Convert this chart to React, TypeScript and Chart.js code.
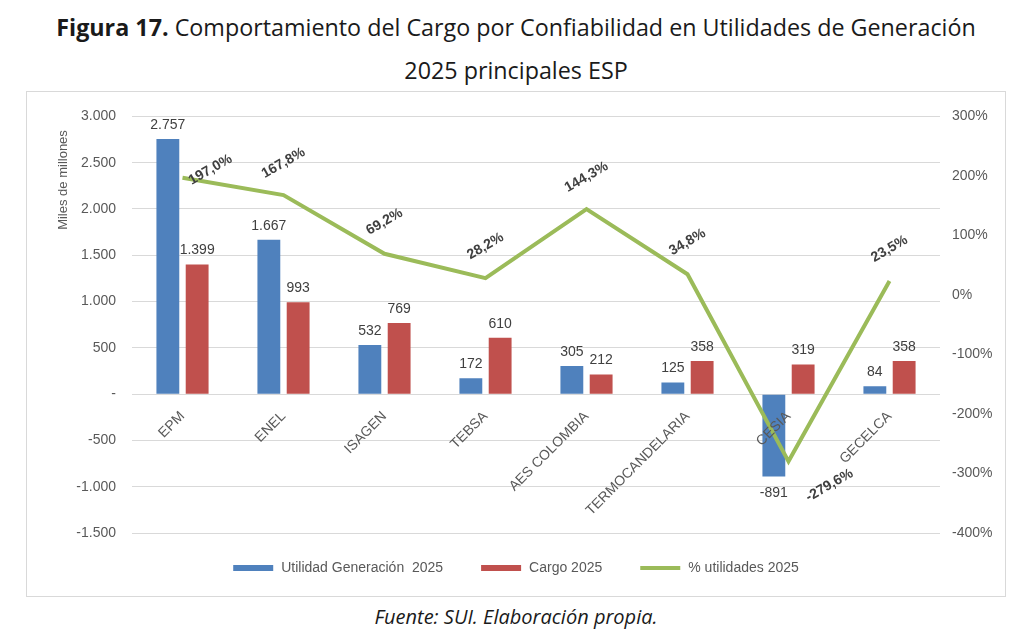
import React, { useEffect, useRef } from "react";
import { Chart, registerables } from "chart.js";

Chart.register(...registerables);

const categories = ["EPM", "ENEL", "ISAGEN", "TEBSA", "AES COLOMBIA", "TERMOCANDELARIA", "CESIA", "GECELCA"];
const utilidadGeneracion = [2757, 1667, 532, 172, 305, 125, -891, 84];
const cargo = [1399, 993, 769, 610, 212, 358, 319, 358];
const pctUtilidades = [197.0, 167.8, 69.2, 28.2, 144.3, 34.8, -279.6, 23.5];

const seriesNames = ["Utilidad Generación  2025", "Cargo 2025", "% utilidades 2025"];
const leftAxisTitle = "Miles de millones";

const BLUE = "#4F81BD";
const RED = "#C0504D";
const GREEN = "#9BBB59";
const AXIS_TEXT = "#595959";
const LABEL_TEXT = "#404040";
const GRID = "#d9d9d9";
const FONT = "'Liberation Sans', Arial, sans-serif";
const TITLE_FONT = "'Open Sans', 'Noto Sans', sans-serif";

const CANVAS_W = 978;
const CANVAS_H = 504;

function fmtThousands(v: number): string {
  const s = Math.abs(Math.round(v)).toString().replace(/\B(?=(\d{3})+(?!\d))/g, ".");
  return (v < 0 ? "-" : "") + s;
}
function fmtPct(v: number): string {
  return v.toFixed(1).replace(".", ",") + "%";
}

const labelsPlugin = {
  id: "customLabels",
  afterDatasetsDraw(chart: any) {
    const ctx = chart.ctx;
    ctx.save();
    [0, 1].forEach((di) => {
      const meta = chart.getDatasetMeta(di);
      const data = chart.data.datasets[di].data as number[];
      meta.data.forEach((el: any, i: number) => {
        const v = data[i];
        ctx.font = `14px ${FONT}`;
        ctx.fillStyle = LABEL_TEXT;
        ctx.textAlign = "center";
        if (v >= 0) {
          ctx.textBaseline = "bottom";
          ctx.fillText(fmtThousands(v), el.x, el.y - 7);
        } else {
          ctx.textBaseline = "top";
          ctx.fillText(fmtThousands(v), el.x, el.y + 10);
        }
      });
    });
    const lmeta = chart.getDatasetMeta(2);
    const ldata = chart.data.datasets[2].data as number[];
    lmeta.data.forEach((pt: any, i: number) => {
      let dx = 0;
      let dy = -32;
      if (i === 0) { dx = 28; dy = -8; }
      if (ldata[i] < -200) { dx = 41; dy = 24; }
      ctx.save();
      ctx.translate(pt.x + dx, pt.y + dy);
      ctx.rotate(-Math.PI / 6);
      ctx.font = `bold 14px ${FONT}`;
      ctx.fillStyle = LABEL_TEXT;
      ctx.textAlign = "center";
      ctx.textBaseline = "middle";
      ctx.fillText(fmtPct(ldata[i]), 0, 0);
      ctx.restore();
    });
    ctx.restore();
  },
  afterDraw(chart: any) {
    const ctx = chart.ctx;
    ctx.save();
    ctx.save();
    ctx.translate(36, 88);
    ctx.rotate(-Math.PI / 2);
    ctx.font = `13px ${FONT}`;
    ctx.fillStyle = AXIS_TEXT;
    ctx.textAlign = "center";
    ctx.textBaseline = "middle";
    ctx.fillText(leftAxisTitle, 0, 0);
    ctx.restore();
    const colors = [BLUE, RED, GREEN];
    ctx.font = `14px ${FONT}`;
    const sw = 40, gap = 8, spacing = 38;
    const widths = seriesNames.map((n) => sw + gap + ctx.measureText(n).width);
    const total = widths.reduce((a, b) => a + b, 0) + spacing * (widths.length - 1);
    let x = chart.width / 2 - total / 2;
    const y = 476;
    seriesNames.forEach((n, i) => {
      ctx.fillStyle = colors[i];
      if (i === 2) ctx.fillRect(x, y - 2, sw, 4);
      else ctx.fillRect(x, y - 3, sw, 6);
      ctx.fillStyle = AXIS_TEXT;
      ctx.textAlign = "left";
      ctx.textBaseline = "middle";
      ctx.fillText(n, x + sw + gap, y);
      x += widths[i] + spacing;
    });
    ctx.restore();
  },
};

function ChartView() {
  const ref = useRef<HTMLCanvasElement | null>(null);
  useEffect(() => {
    if (!ref.current) return;
    const chart = new Chart(ref.current, {
      type: "bar",
      data: {
        labels: categories,
        datasets: [
          {
            type: "bar",
            label: seriesNames[0],
            data: utilidadGeneracion,
            backgroundColor: BLUE,
            yAxisID: "y",
            order: 1,
            categoryPercentage: 0.58,
            barPercentage: 0.78,
          },
          {
            type: "bar",
            label: seriesNames[1],
            data: cargo,
            backgroundColor: RED,
            yAxisID: "y",
            order: 2,
            categoryPercentage: 0.58,
            barPercentage: 0.78,
          },
          {
            type: "line",
            label: seriesNames[2],
            data: pctUtilidades,
            borderColor: GREEN,
            backgroundColor: GREEN,
            borderWidth: 4,
            pointRadius: 0,
            tension: 0,
            fill: false,
            yAxisID: "y1",
            order: 0,
          } as any,
        ],
      },
      options: {
        responsive: false,
        animation: false,
        devicePixelRatio: 1,
        layout: { padding: { top: 22, bottom: 63, left: 0, right: 0 } },
        plugins: {
          legend: { display: false },
          tooltip: { enabled: false },
        },
        scales: {
          x: {
            position: { y: 0 } as any,
            grid: { display: false },
            border: { display: false },
            ticks: {
              z: 1,
              maxRotation: 45,
              minRotation: 45,
              padding: 6,
              color: AXIS_TEXT,
              font: { family: FONT, size: 14 },
            } as any,
          },
          y: {
            position: "left",
            min: -1500,
            max: 3000,
            grid: { color: GRID, lineWidth: 1, drawTicks: false },
            border: { display: false },
            ticks: {
              stepSize: 500,
              padding: 16,
              color: AXIS_TEXT,
              font: { family: FONT, size: 14 },
              callback: (v: any) => (Number(v) === 0 ? "-" : fmtThousands(Number(v))),
            },
            afterFit: (s: any) => { s.width = 105; },
          },
          y1: {
            position: "right",
            min: -400,
            max: 300,
            grid: { display: false, drawTicks: false },
            border: { display: false },
            ticks: {
              stepSize: 100,
              padding: 12,
              color: AXIS_TEXT,
              font: { family: FONT, size: 14 },
              callback: (v: any) => `${v}%`,
            },
            afterFit: (s: any) => { s.width = 65; },
          },
        },
      },
      plugins: [labelsPlugin],
    });
    return () => chart.destroy();
  }, []);
  return (
    <canvas
      ref={ref}
      width={CANVAS_W}
      height={CANVAS_H}
      style={{ position: "absolute", left: 27, top: 92, width: CANVAS_W, height: CANVAS_H }}
    />
  );
}

export default function App() {
  return (
    <div style={{ position: "absolute", left: 0, top: 0, width: 1024, height: 634, background: "#fff", overflow: "hidden" }}>
      <div
        style={{
          position: "absolute", left: 0, width: 1032, top: 12, textAlign: "center",
          fontFamily: TITLE_FONT, fontSize: 23.3, lineHeight: "30px", color: "#1a1a1a",
        }}
      >
        <b>Figura 17.</b> Comportamiento del Cargo por Confiabilidad en Utilidades de Generación
      </div>
      <div
        style={{
          position: "absolute", left: 0, width: 1032, top: 55, textAlign: "center",
          fontFamily: TITLE_FONT, fontSize: 23.3, lineHeight: "30px", color: "#1a1a1a",
        }}
      >
        2025 principales ESP
      </div>
      <div
        style={{
          position: "absolute", left: 26, top: 91, width: 980, height: 506,
          border: "1px solid #d9d9d9", boxSizing: "border-box",
        }}
      />
      <ChartView />
      <div
        style={{
          position: "absolute", left: 0, width: 1032, top: 604, textAlign: "center",
          fontFamily: TITLE_FONT, fontSize: 20, fontStyle: "italic", lineHeight: "26px", color: "#1a1a1a",
        }}
      >
        Fuente: SUI. Elaboración propia.
      </div>
    </div>
  );
}
